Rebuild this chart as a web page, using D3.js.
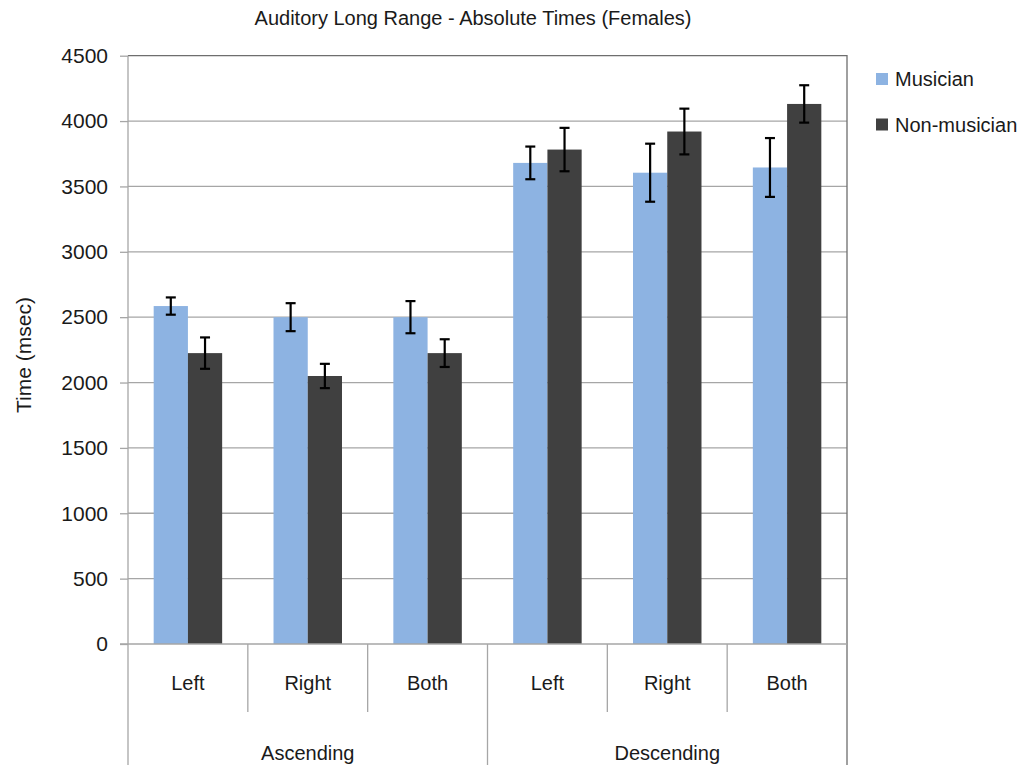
<!DOCTYPE html>
<html>
<head>
  <meta charset="utf-8">
  <script src="https://d3js.org/d3.v7.min.js"></script>
  <title>Auditory Long Range - Absolute Times (Females)</title>
  <style>
    body {
      margin: 0px;
      background: #fff;
    }
    text {
      font-family: "Liberation Sans", Arial, sans-serif;
      fill: #1a1a1a;
    }
    .tick text {
      font-size: 21px;
    }
  </style>
</head>
<body>
  <svg width="1026" height="765"></svg>
  <script>
    // data
    const categories = ['Left', 'Right', 'Both', 'Left', 'Right', 'Both'];
    const groups = ['Ascending', 'Descending'];
    const series = ['Musician', 'Non-musician'];
    const musician = [2585, 2500, 2500, 3680, 3605, 3645];
    const musicianErr = [66, 107, 123, 125, 222, 225];
    const nonMusician = [2225, 2050, 2225, 3782, 3920, 4131];
    const nonMusicianErr = [120, 93, 106, 166, 175, 143];
    const yTicks = [0, 500, 1000, 1500, 2000, 2500, 3000, 3500, 4000, 4500];
    const colors = ['#8db3e2', '#404040'];

    const svg = d3.select('svg');
    const plotLeft = 128, plotRight = 847, plotTop = 55.7, plotBottom = 644;

    const rows = categories.map((c, i) => ({
      i: i,
      values: [
        { s: 0, v: musician[i], e: musicianErr[i] },
        { s: 1, v: nonMusician[i], e: nonMusicianErr[i] }
      ]
    }));

    // scales
    const x0 = d3.scaleBand()
      .domain(d3.range(categories.length))
      .range([plotLeft, plotRight]);
    const x1 = d3.scaleBand()
      .domain([0, 1])
      .range([0, x0.bandwidth()])
      .paddingOuter(0.75);
    const yScale = d3.scaleLinear()
      .domain([0, 4500])
      .range([plotBottom, plotTop]);

    // gridlines
    svg.append('g').selectAll('line').data(yTicks.slice(1, -1))
      .enter().append('line')
      .attr('x1', plotLeft).attr('x2', plotRight)
      .attr('y1', d => yScale(d)).attr('y2', d => yScale(d))
      .attr('stroke', '#a6a6a6')
      .attr('stroke-width', 1.3);

    // top and right border
    svg.append('path')
      .attr('d', `M${plotLeft},${yScale(4500)}H${plotRight}V765`)
      .attr('fill', 'none')
      .attr('stroke', '#6e6e6e')
      .attr('stroke-width', 1.3);

    // y axis
    const yAxis = d3.axisLeft(yScale)
      .tickValues(yTicks)
      .tickSize(8)
      .tickPadding(12)
      .tickFormat(d3.format('d'));
    const yAxisG = svg.append('g')
      .attr('transform', `translate(${plotLeft},0)`)
      .call(yAxis);
    yAxisG.select('.domain').remove();
    yAxisG.selectAll('.tick line').attr('stroke', '#a6a6a6').attr('stroke-width', 1.3);
    yAxisG.selectAll('.tick text').attr('fill', '#1a1a1a');
    yAxisG.append('line')
      .attr('x1', 0).attr('x2', 0)
      .attr('y1', plotTop).attr('y2', 765)
      .attr('stroke', '#a6a6a6')
      .attr('stroke-width', 1.3);

    // bars
    const catG = svg.append('g').selectAll('g').data(rows)
      .enter().append('g')
      .attr('transform', d => `translate(${x0(d.i)},0)`);

    catG.selectAll('rect').data(d => d.values)
      .enter().append('rect')
      .attr('x', d => x1(d.s))
      .attr('y', d => yScale(d.v))
      .attr('width', x1.bandwidth())
      .attr('height', d => plotBottom - yScale(d.v))
      .attr('fill', d => colors[d.s]);

    // error bars
    const errG = catG.selectAll('g.err').data(d => d.values)
      .enter().append('g')
      .attr('class', 'err')
      .attr('stroke', '#000')
      .attr('stroke-width', 2.2);
    const cx = d => x1(d.s) + x1.bandwidth() / 2;
    errG.append('line')
      .attr('x1', cx).attr('x2', cx)
      .attr('y1', d => yScale(d.v + d.e)).attr('y2', d => yScale(d.v - d.e));
    errG.append('line')
      .attr('x1', d => cx(d) - 5).attr('x2', d => cx(d) + 5)
      .attr('y1', d => yScale(d.v + d.e)).attr('y2', d => yScale(d.v + d.e));
    errG.append('line')
      .attr('x1', d => cx(d) - 5).attr('x2', d => cx(d) + 5)
      .attr('y1', d => yScale(d.v - d.e)).attr('y2', d => yScale(d.v - d.e));

    // baseline
    svg.append('line')
      .attr('x1', plotLeft - 8).attr('x2', plotRight)
      .attr('y1', plotBottom).attr('y2', plotBottom)
      .attr('stroke', '#a6a6a6')
      .attr('stroke-width', 1.3);

    // category labels and separators
    svg.append('g').selectAll('text').data(categories)
      .enter().append('text')
      .attr('x', (d, i) => x0(i) + x0.bandwidth() / 2)
      .attr('y', 690)
      .attr('text-anchor', 'middle')
      .style('font-size', '20px')
      .text(d => d);

    svg.append('g').selectAll('line').data(d3.range(1, categories.length))
      .enter().append('line')
      .attr('x1', i => x0(i)).attr('x2', i => x0(i))
      .attr('y1', plotBottom).attr('y2', i => i % 3 == 0 ? 765 : 712)
      .attr('stroke', '#a6a6a6')
      .attr('stroke-width', 1.3);

    svg.append('g').selectAll('text').data(groups)
      .enter().append('text')
      .attr('x', (d, i) => (x0(i * 3) + x0(i * 3 + 2) + x0.bandwidth()) / 2)
      .attr('y', 760)
      .attr('text-anchor', 'middle')
      .style('font-size', '20px')
      .text(d => d);

    // title
    svg.append('text')
      .attr('x', 473)
      .attr('y', 25)
      .attr('text-anchor', 'middle')
      .style('font-size', '20px')
      .text('Auditory Long Range - Absolute Times (Females)');

    // y axis label
    svg.append('text')
      .attr('transform', 'translate(31,355) rotate(-90)')
      .attr('text-anchor', 'middle')
      .style('font-size', '21px')
      .text('Time (msec)');

    // legend
    const legend = svg.append('g').selectAll('g').data(series)
      .enter().append('g')
      .attr('transform', (d, i) => `translate(876,${73 + i * 45.5})`);
    legend.append('rect')
      .attr('width', 12)
      .attr('height', 12)
      .attr('fill', (d, i) => colors[i]);
    legend.append('text')
      .attr('x', 19)
      .attr('y', 13)
      .style('font-size', '20px')
      .text(d => d);
  </script>
</body>
</html>
